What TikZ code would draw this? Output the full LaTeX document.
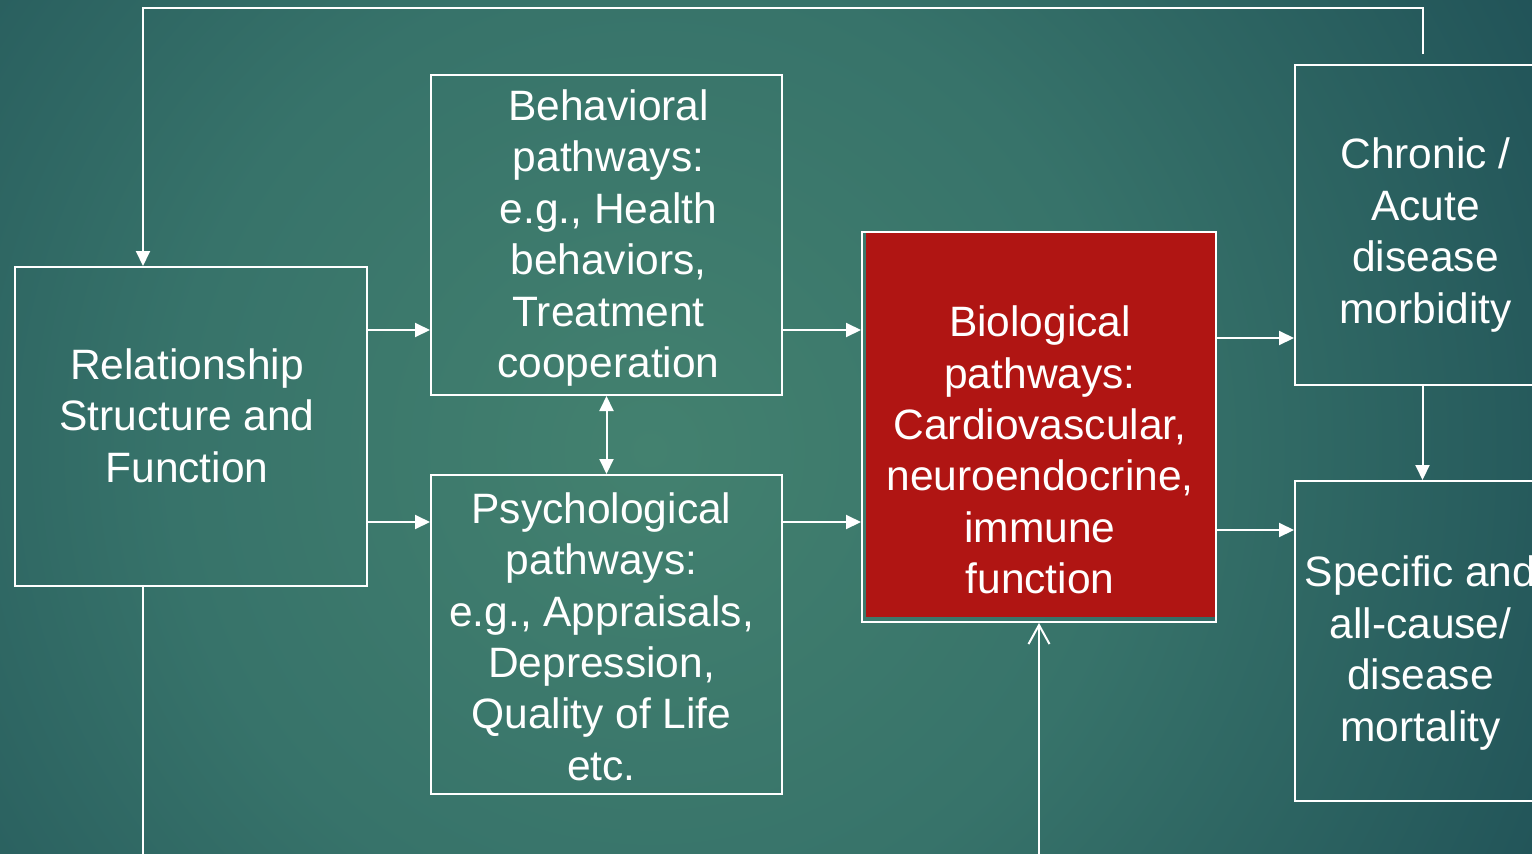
\documentclass[tikz,border=0pt]{standalone}
\usepackage{fontspec}
\setmainfont{Liberation Sans}
\usetikzlibrary{arrows.meta,positioning,backgrounds}
\definecolor{bgin}{HTML}{43816F}
\definecolor{bgmid}{HTML}{37736A}
\definecolor{bgout}{HTML}{215358}
\definecolor{biored}{HTML}{B01513}
\pgfdeclareradialshading{bgshade}{\pgfpoint{0bp}{0bp}}{color(0bp)=(bgin); color(12bp)=(bgmid); color(25bp)=(bgout); color(50bp)=(bgout)}
\tikzset{
  frame/.style={draw=white, line width=2pt, inner sep=0pt},
  boxtext/.style={align=center, text=white, font=\fontsize{42.5}{51.4}\selectfont, inner sep=0pt},
  link/.style={draw=white, line width=2pt, -{Triangle[length=15pt,width=14pt]}},
  twolink/.style={draw=white, line width=2pt, {Triangle[length=15pt,width=14pt]}-{Triangle[length=15pt,width=14pt]}},
  openlink/.style={draw=white, line width=2pt, -{Straight Barb[length=19pt,width=21pt,line width=2pt]}},
  wire/.style={draw=white, line width=2pt}
}
\begin{document}
\begin{tikzpicture}[x=1pt,y=-1pt]
\useasboundingbox (0,0) rectangle (1532,854);
\clip (0,0) rectangle (1532,854);
% boxes
\node[frame, minimum width=352pt, minimum height=319pt] (rel) at (191,426.5) {};
\node[frame, minimum width=351pt, minimum height=320pt] (beh) at (606.5,235) {};
\node[frame, minimum width=351pt, minimum height=319pt] (psy) at (606.5,634.5) {};
\node[frame, minimum width=354pt, minimum height=390pt] (bio) at (1039,427) {};
\node[frame, minimum width=255pt, minimum height=320pt] (chr) at (1422.5,225) {};
\node[frame, minimum width=255pt, minimum height=320pt] (spec) at (1422.5,641) {};
% texts
\node[boxtext] (reltext) at ([xshift=-4pt,yshift=11pt]rel.center) {Relationship\\Structure and\\Function};
\node[boxtext] (behtext) at ([xshift=2pt,yshift=-3pt]beh.center) {Behavioral\\pathways:\\e.g., Health\\behaviors,\\Treatment\\cooperation};
\node[boxtext] (psytext) at ([xshift=-5pt,yshift=-2pt]psy.center) {Psychological\\pathways:\\e.g., Appraisals,\\Depression,\\Quality of Life\\etc.};
\node[boxtext] (biotext) at ([xshift=1pt,yshift=-23pt]bio.center) {Biological\\pathways:\\Cardiovascular,\\neuroendocrine,\\immune\\function};
\node[boxtext] (chrtext) at ([xshift=3pt,yshift=-10pt]chr.center) {Chronic /\\Acute\\disease\\morbidity};
\node[boxtext] (spectext) at ([xshift=-2pt,yshift=-12pt]spec.center) {Specific and\\all-cause/\\disease\\mortality};
\begin{scope}[on background layer]
  \shade[shading=bgshade] (-350,-550) rectangle (1650,1450);
  \fill[biored] ([xshift=5pt,yshift=-1pt]bio.north west) rectangle ([xshift=-1pt,yshift=6pt]bio.south east);
\end{scope}
% helper points
\coordinate (r1) at (0,330);
\coordinate (r2) at (0,522);
\coordinate (r3) at (0,338);
\coordinate (r4) at (0,530);
\coordinate (top) at (143,8);
\coordinate (bot) at (143,854);
\coordinate (bioin) at (1039,854);
\coordinate (loopstart) at ([yshift=10pt]chr.north);
% connectors
\draw[link] (rel.east |- r1) -- (beh.west |- r1);
\draw[link] (rel.east |- r2) -- (psy.west |- r2);
\draw[link] (beh.east |- r1) -- (bio.west |- r1);
\draw[link] (psy.east |- r2) -- (bio.west |- r2);
\draw[link] (bio.east |- r3) -- (chr.west |- r3);
\draw[link] (bio.east |- r4) -- (spec.west |- r4);
\draw[twolink] (beh.south) -- (psy.north);
\draw[link] (chr.south) -- (spec.north);
\draw[link] (loopstart) |- (top) -- (top |- rel.north);
\draw[wire] (top |- rel.south) -- (bot);
\draw[openlink] (bioin) -- (bioin |- bio.south);
\end{tikzpicture}
\end{document}
